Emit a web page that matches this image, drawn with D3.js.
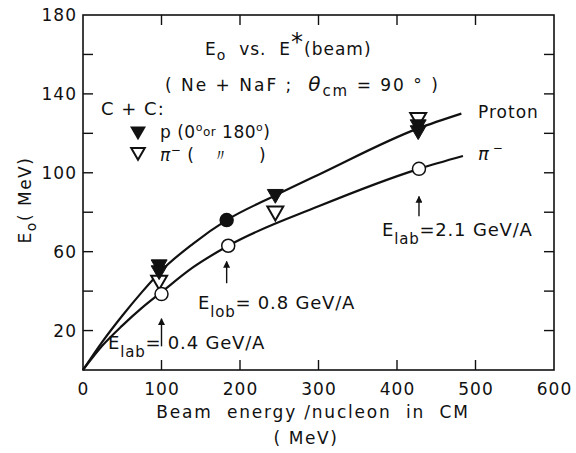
<!DOCTYPE html>
<html><head><meta charset="utf-8">
<script src="https://cdn.jsdelivr.net/npm/d3@7"></script>
<style>
html,body{margin:0;padding:0;background:#fff;}
svg{display:block;font-family:"DejaVu Sans","Liberation Sans",sans-serif;}
text{white-space:pre;}
</style></head>
<body>
<svg id="c" width="576" height="453"></svg>
<script>
// ---- data ----
const xTickValues = [0, 100, 200, 300, 400, 500, 600];
const yTickLabeled = [20, 60, 100, 140, 180];
const yTickAll = [20, 40, 60, 80, 100, 120, 140, 160];
// smooth curves through the points
const protonCurveX = [0, 25, 50, 75, 100, 140, 183, 245, 300, 427, 482];
const protonCurveY = [0, 14.5, 27.5, 39.5, 50.5, 64, 76, 88.5, 99, 122.5, 130];
const pionCurveX = [0, 25, 50, 75, 100, 140, 185, 300, 428, 484];
const pionCurveY = [0, 12.5, 22.5, 31.5, 39.5, 52, 63, 83, 102, 108.5];
// measured points
const pFilledTriX = [97, 97, 245, 427, 427];
const pFilledTriY = [53, 50, 88.7, 124, 121];
const pFilledCircX = [183];
const pFilledCircY = [76];
const piOpenTriX = [97, 245, 427];
const piOpenTriY = [45, 80, 127.5];
const piOpenCircX = [100, 185, 428];
const piOpenCircY = [38.5, 63, 102];
// arrows marking beam energies
const arrowX = [100, 183, 428];
const arrowFrom = [12, 44, 78];
const arrowTo = [26, 55, 88];
const arrowLabelSub = ["lab", "lob", "lab"];
const arrowLabelVal = ["= 0.4 GeV/A", "= 0.8 GeV/A", "=2.1 GeV/A"];

// ---- drawing ----
const svg = d3.select("#c");
const x = d3.scaleLinear().domain([0, 600]).range([83, 554]);
const y = d3.scaleLinear().domain([0, 180]).range([370, 15]);
const ink = "#111";

// frame
svg.append("rect").attr("x", x(0)).attr("y", y(180))
  .attr("width", x(600) - x(0)).attr("height", y(0) - y(180))
  .attr("fill", "none").attr("stroke", ink).attr("stroke-width", 1.6);

// axes with inward ticks
const fs = 17;
const gx = svg.append("g").attr("transform", `translate(0,${y(0)})`)
  .call(d3.axisBottom(x).tickValues(xTickValues).tickSize(0).tickPadding(13));
gx.select(".domain").remove();
gx.selectAll("text").attr("font-size", fs).attr("fill", ink).attr("letter-spacing", 1).attr("font-family", "DejaVu Sans");
const gy = svg.append("g").attr("transform", `translate(${x(0)},0)`)
  .call(d3.axisLeft(y).tickValues(yTickLabeled).tickSize(0).tickPadding(6));
gy.select(".domain").remove();
gy.selectAll("text").attr("font-size", fs).attr("fill", ink).attr("letter-spacing", 1).attr("dy", "0.32em").attr("font-family", "DejaVu Sans");

const tl = 10;
const ticks = svg.append("g").attr("stroke", ink).attr("stroke-width", 1.4);
xTickValues.slice(1, -1).forEach(v => {
  ticks.append("line").attr("x1", x(v)).attr("x2", x(v)).attr("y1", y(0)).attr("y2", y(0) - tl);
  ticks.append("line").attr("x1", x(v)).attr("x2", x(v)).attr("y1", y(180)).attr("y2", y(180) + tl);
});
yTickAll.forEach(v => {
  ticks.append("line").attr("x1", x(0)).attr("x2", x(0) + tl).attr("y1", y(v)).attr("y2", y(v));
  ticks.append("line").attr("x1", x(600)).attr("x2", x(600) - tl).attr("y1", y(v)).attr("y2", y(v));
});

// curves
const line = d3.line().x(d => x(d[0])).y(d => y(d[1])).curve(d3.curveMonotoneX);
svg.append("path").datum(protonCurveX.map((v, i) => [v, protonCurveY[i]]))
  .attr("d", line).attr("fill", "none").attr("stroke", ink).attr("stroke-width", 2.2);
svg.append("path").datum(pionCurveX.map((v, i) => [v, pionCurveY[i]]))
  .attr("d", line).attr("fill", "none").attr("stroke", ink).attr("stroke-width", 2.2);

// arrows
svg.append("defs").append("marker").attr("id", "ah").attr("viewBox", "0 0 10 10")
  .attr("refX", 9).attr("refY", 5).attr("markerWidth", 10).attr("markerHeight", 7)
  .attr("orient", "auto").attr("markerUnits", "userSpaceOnUse")
  .append("path").attr("d", "M0,0 L10,5 L0,10 z").attr("fill", ink);
arrowX.forEach((v, i) => {
  svg.append("line").attr("x1", x(v)).attr("x2", x(v))
    .attr("y1", y(arrowFrom[i])).attr("y2", y(arrowTo[i]))
    .attr("stroke", ink).attr("stroke-width", 1.4).attr("marker-end", "url(#ah)");
});

// markers
const tri = d3.symbol().type(d3.symbolTriangle).size(110);
function triDown(g, xs, ys, filled) {
  xs.forEach((v, i) => {
    g.append("path").attr("d", tri())
      .attr("transform", `translate(${x(v)},${y(ys[i]) - 1}) rotate(180)`)
      .attr("fill", filled ? ink : "#fff").attr("stroke", ink).attr("stroke-width", filled ? 1 : 2);
  });
}
function circ(g, xs, ys, filled) {
  xs.forEach((v, i) => {
    g.append("circle").attr("cx", x(v)).attr("cy", y(ys[i])).attr("r", 6.5)
      .attr("fill", filled ? ink : "#fff").attr("stroke", ink).attr("stroke-width", 1.5);
  });
}
const gm = svg.append("g");
triDown(gm, piOpenTriX, piOpenTriY, false);
circ(gm, piOpenCircX, piOpenCircY, false);
triDown(gm, pFilledTriX, pFilledTriY, true);
circ(gm, pFilledCircX, pFilledCircY, true);

// texts
const T = (tx, ty, size, ls) => svg.append("text").attr("x", tx).attr("y", ty)
  .attr("font-size", size).attr("fill", ink).attr("letter-spacing", ls || 0);

// title
let t = T(205, 55, 17, 1);
t.append("tspan").text("E");
t.append("tspan").attr("font-size", 14).attr("dy", 5).text("o");
t.append("tspan").attr("dy", -5).text("  vs.  E");
t.append("tspan").attr("font-size", 24).attr("dy", -5).text("*");
t.append("tspan").attr("dy", 5).text("(beam)");

t = T(165, 91, 17, 2);
t.append("tspan").text("( Ne + NaF ;  ");
t.append("tspan").attr("font-style", "italic").attr("font-size", 20).text("θ");
t.append("tspan").attr("font-size", 15).attr("dy", 5).text("cm");
t.append("tspan").attr("dy", -5).text(" = 90 ° )");

T(101, 115, 18, 1).text("C + C:");

// legend
const lg = svg.append("g");
lg.append("path").attr("d", tri()).attr("transform", "translate(138,131) rotate(180)").attr("fill", ink);
lg.append("path").attr("d", d3.symbol().type(d3.symbolTriangle).size(80)())
  .attr("transform", "translate(138,152) rotate(180)").attr("fill", "#fff").attr("stroke", ink).attr("stroke-width", 2);
t = T(160, 138, 17, 0.5);
t.append("tspan").text("p (0");
t.append("tspan").attr("font-size", 11).attr("dy", -7).text("o");
t.append("tspan").attr("font-size", 12).attr("dy", 5).text("or");
t.append("tspan").attr("dy", 2).text(" 180");
t.append("tspan").attr("font-size", 11).attr("dy", -7).text("o");
t.append("tspan").attr("dy", 7).text(")");
t = T(160, 161, 17, 0.5);
t.append("tspan").attr("font-style", "italic").text("π");
t.append("tspan").attr("font-size", 12).attr("dy", -7).text("−");
t.append("tspan").attr("dy", 7).text(" (   〃     )");

// curve labels
T(478, 118, 17, 1).text("Proton");
t = T(478, 160, 18);
t.append("tspan").attr("font-style", "italic").text("π");
t.append("tspan").attr("font-size", 12).attr("dy", -8).text(" −");

// arrow labels
const labPos = [[108, 349], [198, 309], [382, 236]];
labPos.forEach((p, i) => {
  const tt = T(p[0], p[1], 18, 0.8);
  tt.append("tspan").text("E");
  tt.append("tspan").attr("font-size", 15).attr("dy", 8).text(arrowLabelSub[i]);
  tt.append("tspan").attr("dy", -8).text(arrowLabelVal[i]);
});

// axis titles
t = svg.append("text").attr("transform", "translate(31,200) rotate(-90)")
  .attr("text-anchor", "middle").attr("font-size", 17).attr("letter-spacing", 1.5).attr("fill", ink);
t.append("tspan").text("E");
t.append("tspan").attr("font-size", 14).attr("dy", 5).text("o");
t.append("tspan").attr("dy", -5).text("( MeV)");

T(313, 418, 17, 1.8).attr("text-anchor", "middle").text("Beam  energy /nucleon  in  CM");
T(306, 444, 17, 1.6).attr("text-anchor", "middle").text("( MeV)");
</script>
</body></html>
